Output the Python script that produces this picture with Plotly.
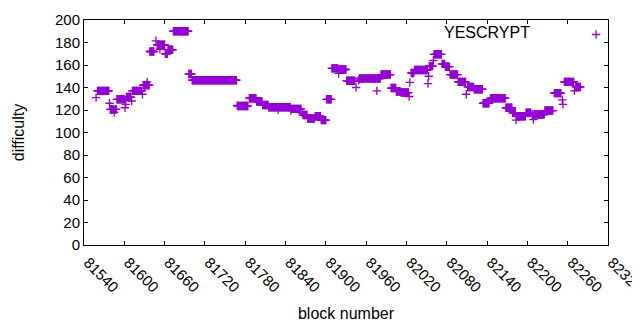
import plotly.graph_objects as go

# Runs of consecutive blocks sharing one difficulty: (first block, last block, difficulty)
run_first = [81560, 81579, 81589, 81603, 81612, 81628, 81638, 81649, 81661, 81665,
             81673, 81696, 81701, 81769, 81786, 81797, 81806, 81815, 81849, 81866,
             81873, 81884, 81893, 81901, 81909, 81920, 81931, 81950, 81982, 81997,
             82005, 82012, 82027, 82032, 82054, 82061, 82073, 82078, 82085, 82097,
             82111, 82121, 82134, 82145, 82168, 82178, 82183, 82198, 82207, 82226,
             82240, 82255, 82272]
run_last = [81577, 81588, 81600, 81610, 81626, 81637, 81644, 81660, 81664, 81672,
            81695, 81700, 81767, 81784, 81796, 81805, 81814, 81847, 81863, 81872,
            81883, 81892, 81900, 81908, 81918, 81930, 81943, 81981, 81996, 82004,
            82011, 82023, 82031, 82051, 82059, 82072, 82077, 82084, 82096, 82108,
            82120, 82133, 82143, 82167, 82177, 82182, 82197, 82205, 82225, 82238,
            82250, 82269, 82279]
run_difficulty = [137, 120.5, 129.5, 131.5, 137, 142, 172, 178, 170, 173.5,
                  190, 152, 146.5, 123.5, 130.5, 127.5, 124.5, 122.5, 121, 115.5,
                  112.5, 114.5, 111, 129.5, 157, 156, 146, 148, 151.5, 139.5,
                  136.5, 135.5, 153, 155.5, 159, 169.5, 161, 158.5, 151.5, 145,
                  140.5, 138.5, 126, 130.5, 122, 117.5, 114.5, 117.5, 116, 119.5,
                  135, 145, 140.5]

# Single blocks that stand apart from the runs
single_block = [81558, 81578, 81585, 81601, 81602, 81611, 81627, 81634, 81647, 81653,
                81768, 81829, 81848, 81865, 81919, 81945, 81949, 81976, 82024, 82025,
                82029, 82052, 82053, 82060, 82109, 82183, 82209, 82252, 82253, 82270]
single_difficulty = [131, 126, 118, 122, 125, 128, 134, 145, 181.5, 174,
                     124, 120, 119.5, 117, 152.5, 140, 146.5, 137, 132, 144.5,
                     152.5, 143.5, 150, 164, 134, 111, 111.5, 129, 125, 137]

x_ticks = [81540, 81600, 81660, 81720, 81780, 81840, 81900, 81960, 82020, 82080,
           82140, 82200, 82260, 82320]
y_ticks = [0, 20, 40, 60, 80, 100, 120, 140, 160, 180, 200]

series_name = "YESCRYPT"

# build point table
pts = {}
for a, b, v in zip(run_first, run_last, run_difficulty):
    for blk in range(a, b + 1):
        pts[blk] = v
for blk, v in zip(single_block, single_difficulty):
    pts[blk] = v
blocks = sorted(pts)
diffs = [pts[b] for b in blocks]

color = "#9400D3"
font = "Liberation Sans, Arial, sans-serif"

fig = go.Figure()
fig.add_trace(go.Scatter(
    x=blocks, y=diffs, mode="markers", name="",
    marker=dict(symbol="cross-thin", size=6, color=color,
                line=dict(color=color, width=1.3)),
    showlegend=True,
))

axis_common = dict(
    showline=True, linecolor="black", linewidth=1, mirror="ticks",
    ticks="inside", ticklen=4, tickcolor="black", tickwidth=1,
    showgrid=False, zeroline=False, automargin=False,
    tickfont=dict(family=font, size=15, color="black"),
)

# page body has an 8px margin; figure is sized/placed to compensate
W, H = 624, 314
fig.update_layout(
    width=W, height=H,
    margin=dict(l=76, r=23, t=12, b=77),
    plot_bgcolor="white", paper_bgcolor="white",
    font=dict(family=font, size=15, color="black"),
    xaxis=dict(range=[x_ticks[0], x_ticks[-1]], tickvals=x_ticks,
               ticktext=[str(t) for t in x_ticks], tickangle=45,
               ticklabeloverflow="allow", ticklabelshift=4, ticklabelstandoff=2,
               title=dict(text="block number", font=dict(family=font, size=16), standoff=19),
               **axis_common),
    yaxis=dict(range=[y_ticks[0], y_ticks[-1]], tickvals=y_ticks,
               ticktext=[str(t) for t in y_ticks],
               title=dict(text="difficulty", font=dict(family=font, size=16), standoff=26),
               **axis_common),
    legend=dict(x=1.023, y=1.0, xanchor="right", yanchor="top",
                bgcolor="rgba(0,0,0,0)", borderwidth=0,
                font=dict(family=font, size=6)),
    annotations=[dict(text=series_name, xref="paper", yref="paper",
                      x=(533 - 84) / 525, y=(245 - 32) / 225,
                      xanchor="right", yanchor="middle", showarrow=False,
                      font=dict(family=font, size=16, color="black"))],
)

fig.write_html("out.html")
